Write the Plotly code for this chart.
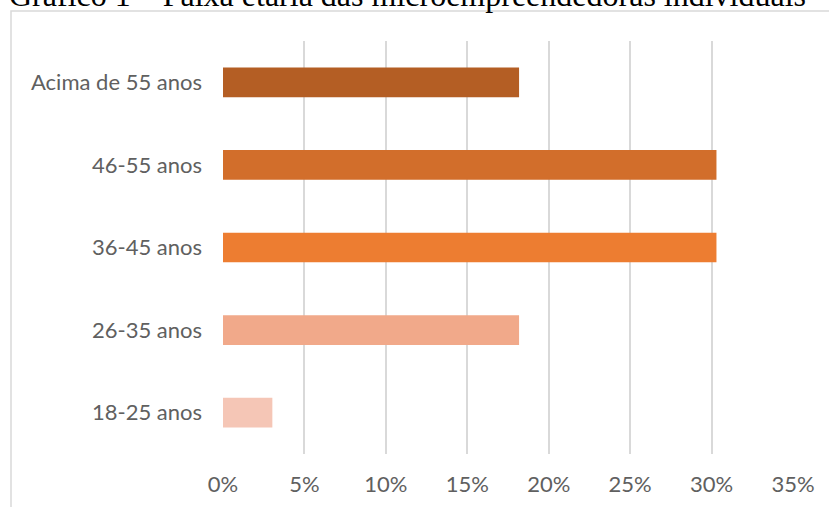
import plotly.graph_objects as go

# Faixa etária das microempreendedoras (share of respondents)
categorias = ["18-25 anos", "26-35 anos", "36-45 anos", "46-55 anos", "Acima de 55 anos"]
percentuais = [0.0303, 0.1818, 0.3030, 0.3030, 0.1818]
cores = ["#F5C6B6", "#F1A98A", "#ED7D31", "#D26E2B", "#B45E24"]
ticks_x = [0, 0.05, 0.10, 0.15, 0.20, 0.25, 0.30, 0.35]
rotulos_x = ["0%", "5%", "10%", "15%", "20%", "25%", "30%", "35%"]
titulo = "Gráfico 1 – Faixa etária das microempreendedoras individuais"

W, H = 829, 507
L, R, T, B = 223, 36, 41, 53
pw, ph = W - L - R, H - T - B


def px_x(p):
    return (p - L) / pw


def px_y(p):
    return (H - B - p) / ph


fig = go.Figure(
    go.Bar(
        x=percentuais,
        y=categorias,
        orientation="h",
        marker=dict(color=cores, line=dict(width=0)),
        width=0.36,
        hoverinfo="skip",
    )
)

label_font = dict(family="Lato, Carlito, Calibri, sans-serif", size=22, color="#606060")

fig.update_layout(
    width=W,
    height=H,
    margin=dict(l=L, r=R, t=T, b=B, autoexpand=False),
    paper_bgcolor="white",
    plot_bgcolor="white",
    showlegend=False,
    xaxis=dict(
        range=[0, 0.35],
        tickvals=ticks_x,
        ticktext=rotulos_x,
        showgrid=True,
        gridcolor="#D9D9D9",
        gridwidth=1.5,
        zeroline=False,
        showline=False,
        ticks="",
        ticklabelstandoff=15,
        tickfont=label_font,
        fixedrange=True,
    ),
    yaxis=dict(
        range=[-0.5, 4.5],
        showgrid=False,
        zeroline=False,
        showline=False,
        ticks="",
        ticklabelstandoff=20,
        tickfont=label_font,
        fixedrange=True,
    ),
    annotations=[
        dict(
            text=titulo,
            font=dict(family="Liberation Serif, Times New Roman, serif", size=32, color="black"),
            xref="paper",
            yref="paper",
            x=px_x(8),
            y=px_y(14),
            xanchor="left",
            yanchor="bottom",
            showarrow=False,
            borderpad=0,
        )
    ],
    shapes=[
        dict(
            type="rect",
            xref="paper",
            yref="paper",
            x0=px_x(11),
            x1=px_x(W + 20),
            y0=px_y(H + 20),
            y1=px_y(11),
            line=dict(color="#D9D9D9", width=1.5),
            fillcolor="rgba(0,0,0,0)",
            layer="below",
        )
    ],
)

fig.write_html("out.html")
